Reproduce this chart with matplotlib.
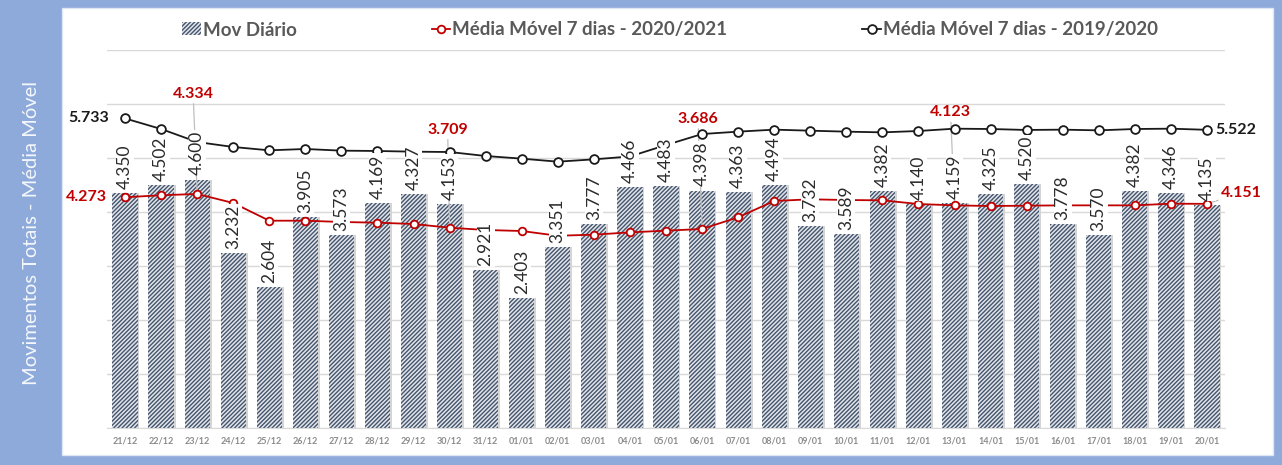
import matplotlib.pyplot as plt
from matplotlib.patches import Rectangle
import numpy as np

plt.rcParams['font.family'] = ['Lato', 'DejaVu Sans']

dias = ['21/12', '22/12', '23/12', '24/12', '25/12', '26/12', '27/12', '28/12', '29/12', '30/12',
        '31/12', '01/01', '02/01', '03/01', '04/01', '05/01', '06/01', '07/01', '08/01', '09/01',
        '10/01', '11/01', '12/01', '13/01', '14/01', '15/01', '16/01', '17/01', '18/01', '19/01', '20/01']

mov_diario = [4350, 4502, 4600, 3232, 2604, 3905, 3573, 4169, 4327, 4153,
              2921, 2403, 3351, 3777, 4466, 4483, 4398, 4363, 4494, 3732,
              3589, 4382, 4140, 4159, 4325, 4520, 3778, 3570, 4382, 4346, 4135]

# media movel 7 dias 2020/2021 (valores estimados do grafico, rotulados onde visiveis)
mm_2021 = [4273, 4310, 4334, 4167, 3839, 3839, 3815, 3802, 3778, 3709,
           3667, 3648, 3560, 3580, 3623, 3654, 3686, 3902, 4204, 4235,
           4222, 4216, 4148, 4123, 4111, 4117, 4123, 4123, 4123, 4154, 4151]

# media movel 7 dias 2019/2020
mm_2020 = [5733, 5537, 5296, 5204, 5142, 5167, 5136, 5130, 5117, 5111,
           5037, 4988, 4932, 4975, 5028, 5240, 5444, 5488, 5525, 5506,
           5488, 5475, 5500, 5543, 5537, 5519, 5525, 5512, 5537, 5543, 5522]

RED = '#c00000'
BLACK = '#1a1a1a'
BLUE_BG = '#8eaadb'

fig = plt.figure(figsize=(12.82, 4.65), dpi=100)
fig.patch.set_facecolor(BLUE_BG)
fig.patches.append(Rectangle((62 / 1282, 1 - 455 / 465), (1273 - 62) / 1282, (455 - 8) / 465,
                             transform=fig.transFigure, facecolor='white', edgecolor='#dfe6f3',
                             linewidth=1, zorder=-5))
fig.text(32 / 1282, 0.5, 'Movimentos Totais - Média Móvel', rotation=90, color='#f4f7fc',
         fontsize=14.5, ha='center', va='center')

ax = fig.add_axes([107 / 1282, 1 - 428 / 465, (1225 - 107) / 1282, (428 - 50) / 465])
ax.set_facecolor('none')
x = np.arange(len(dias))

# sombra das barras
ax.bar(x + 0.05, mov_diario, width=0.7, color='#d4d4d4', zorder=1)
plt.rcParams['hatch.linewidth'] = 1.0
bars = ax.bar(x, mov_diario, width=0.7, facecolor='#e2e5eb', edgecolor='#44546a',
              linewidth=0, hatch='////////', zorder=2, label='Mov Diário')

l1, = ax.plot(x, mm_2021, color=RED, lw=1.3, marker='o', ms=5.5, mfc='white', mec=RED, mew=1.3,
              zorder=4, label='Média Móvel 7 dias - 2020/2021')
l2, = ax.plot(x, mm_2020, color=BLACK, lw=1.3, marker='o', ms=6.3, mfc='white', mec=BLACK, mew=1.3,
              zorder=4, label='Média Móvel 7 dias - 2019/2020')

# rotulos das barras
for i, v in enumerate(mov_diario):
    ax.annotate(f'{v / 1000:.3f}', (i, v), xytext=(0, 3), textcoords='offset points',
                rotation=90, ha='center', va='bottom', fontsize=12.5, color='#2b2b2b',
                bbox=dict(boxstyle='square,pad=0.05', fc='white', ec='none'), zorder=5)

# rotulos das medias
def lbl(i, serie, txt, color, dx, dy, ha='center', va='center', leader=False):
    ap = dict(arrowstyle='-', color='#bfbfbf', lw=0.9, shrinkA=0, shrinkB=3) if leader else None
    ax.annotate(txt, (i, serie[i]), xytext=(dx * 0.72, dy * 0.72), textcoords='offset points',
                ha=ha, va=va, fontsize=11.5, fontweight='bold', color=color,
                arrowprops=ap, zorder=3)

lbl(0, mm_2020, '5.733', BLACK, -16, 0, ha='right')
lbl(0, mm_2021, '4.273', RED, -18, 0, ha='right')
lbl(2, mm_2021, '4.334', RED, -4, 100, va='center', leader=True)
lbl(9, mm_2021, '3.709', RED, -2, 98, va='center', leader=True)
lbl(16, mm_2021, '3.686', RED, -4, 110, va='center', leader=True)
lbl(23, mm_2021, '4.123', RED, -4, 93, va='center', leader=True)
lbl(30, mm_2020, '5.522', BLACK, 8, 0, ha='left')
lbl(30, mm_2021, '4.151', RED, 14, 11, ha='left', leader=True)

ax.set_xlim(-0.5, len(dias) - 0.5)
ax.set_ylim(0, 7000)
ax.set_yticks(np.arange(0, 7001, 1000))
ax.set_yticklabels([])
ax.tick_params(axis='y', length=0)
ax.grid(axis='y', color='#d9d9d9', lw=1, zorder=0)
ax.set_axisbelow(True)
ax.set_xticks(x)
ax.set_xticklabels(dias, fontsize=6.5, color='#8c8c8c', fontweight='bold')
ax.tick_params(axis='x', length=0, pad=6)
for s in ['top', 'right', 'left']:
    ax.spines[s].set_visible(False)
ax.spines['bottom'].set_color('#d9d9d9')

fig.legend(handles=[bars, l1, l2], loc='center', bbox_to_anchor=(670 / 1282, 1 - 30 / 465), ncol=3,
           frameon=False, columnspacing=7.2, handlelength=1.0, handletextpad=0.1,
           labelcolor='#595959', prop={'weight': 'bold', 'size': 13.5})

fig.savefig('out.png', dpi=100, facecolor=fig.get_facecolor())
